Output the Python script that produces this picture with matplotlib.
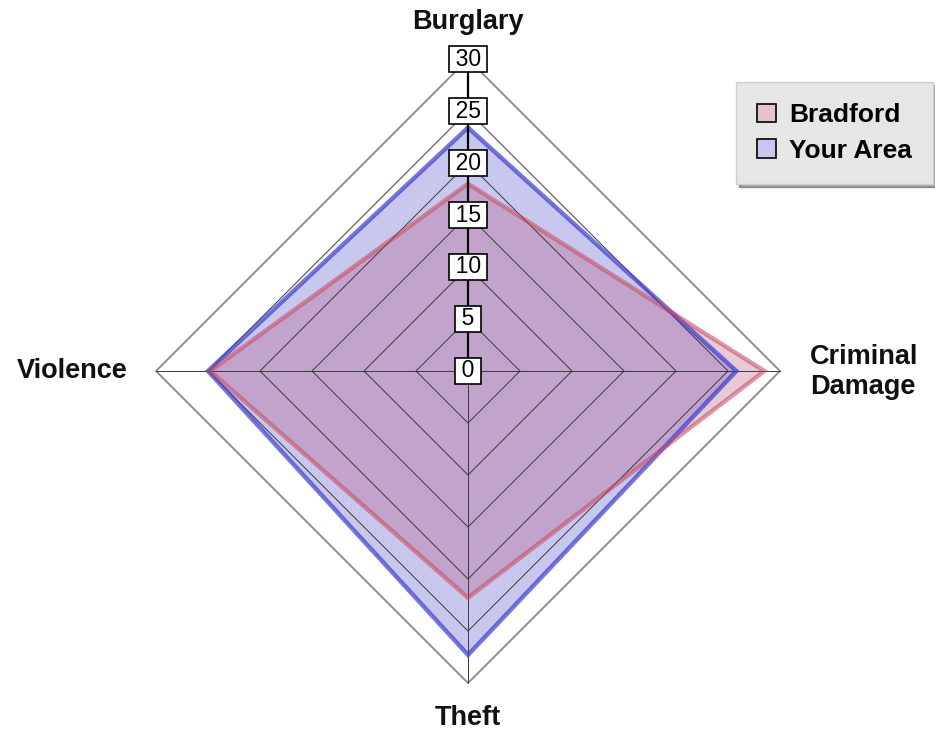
import numpy as np
import matplotlib
matplotlib.use("Agg")
import matplotlib.pyplot as plt
from matplotlib.patches import Patch

# data
categories = ["Burglary", "Criminal\nDamage", "Theft", "Violence"]
bradford = [18.0, 28.5, 21.8, 24.8]
your_area = [23.4, 25.8, 27.3, 25.0]
ticks = [0, 5, 10, 15, 20, 25, 30]
r_max = 30

# angles: Burglary at top, going clockwise
angles = np.pi / 2 - np.arange(len(categories)) * 2 * np.pi / len(categories)


def to_xy(values):
    v = np.asarray(values, dtype=float)
    x = v * np.cos(angles)
    y = v * np.sin(angles)
    return np.append(x, x[0]), np.append(y, y[0])


fig = plt.figure(figsize=(9.35, 7.31), dpi=100)
ax = fig.add_axes([0, 0, 1, 1])
scale = 312 / r_max  # pixels per unit
ax.set_xlim(-468 / scale, (935 - 468) / scale)
ax.set_ylim(-(731 - 371) / scale, 371 / scale)
ax.axis("off")

# grid rings
for t in ticks[1:]:
    gx, gy = to_xy([t] * len(categories))
    if t == r_max:
        ax.plot(gx, gy, color="#8a8a8a", lw=1.3, zorder=1)
    else:
        ax.plot(gx, gy, color="#3a3a3a", lw=0.7, zorder=3)

# spokes
for a in angles:
    ax.plot([0, r_max * np.cos(a)], [0, r_max * np.sin(a)],
            color="#3a3a3a", lw=0.7, zorder=3)

# series
bx, by = to_xy(your_area)
ax.fill(bx, by, color=(100 / 255, 100 / 255, 210 / 255), alpha=0.35, lw=0, zorder=2)
ax.plot(bx, by, color=(60 / 255, 60 / 255, 210 / 255), alpha=0.7, lw=3.2,
        solid_joinstyle="miter", zorder=4)

rx, ry = to_xy(bradford)
ax.fill(rx, ry, color=(180 / 255, 80 / 255, 120 / 255), alpha=0.3, lw=0, zorder=2)
ax.plot(rx, ry, color=(200 / 255, 70 / 255, 90 / 255), alpha=0.55, lw=3.2,
        solid_joinstyle="miter", zorder=4)

# value axis on top spoke
ax.plot([0, 0], [0, r_max], color="black", lw=1.6, zorder=5)
for t in ticks:
    ax.text(0, t, "\u2009%d\u2009" % t, ha="center", va="center", fontsize=16.5,
            family=["Liberation Sans Narrow", "Liberation Sans"], zorder=6,
            bbox=dict(boxstyle="square,pad=0.08", fc="white", ec="black", lw=1.2))

# category labels
lab = dict(fontsize=19.5, fontweight="bold", family="Liberation Sans", color="#111111")
ax.text(0, 33.56, categories[0], ha="center", va="center", **lab)
ax.text(32.9, -0.1, categories[1], ha="left", va="center", multialignment="left", **lab)
ax.text(0, -33.35, categories[2], ha="center", va="center", **lab)
ax.text(-32.7, 0, categories[3], ha="right", va="center", **lab)

handles = [
    Patch(facecolor="#e6c3c8", edgecolor="black", lw=1.2, label="Bradford"),
    Patch(facecolor="#c8c8ee", edgecolor="black", lw=1.2, label="Your Area"),
]
leg = ax.legend(handles=handles, loc="upper right", bbox_to_anchor=(0.998, 0.888),
                bbox_transform=fig.transFigure, fancybox=False, shadow=True,
                facecolor="#e6e6e6", edgecolor="#d0d0d0", framealpha=1,
                handlelength=0.7, handleheight=0.7, handletextpad=0.5,
                borderpad=0.8, labelspacing=0.45, borderaxespad=0,
                prop=dict(size=19, weight="bold", family="Liberation Sans"))

fig.savefig("out.png", dpi=100)
